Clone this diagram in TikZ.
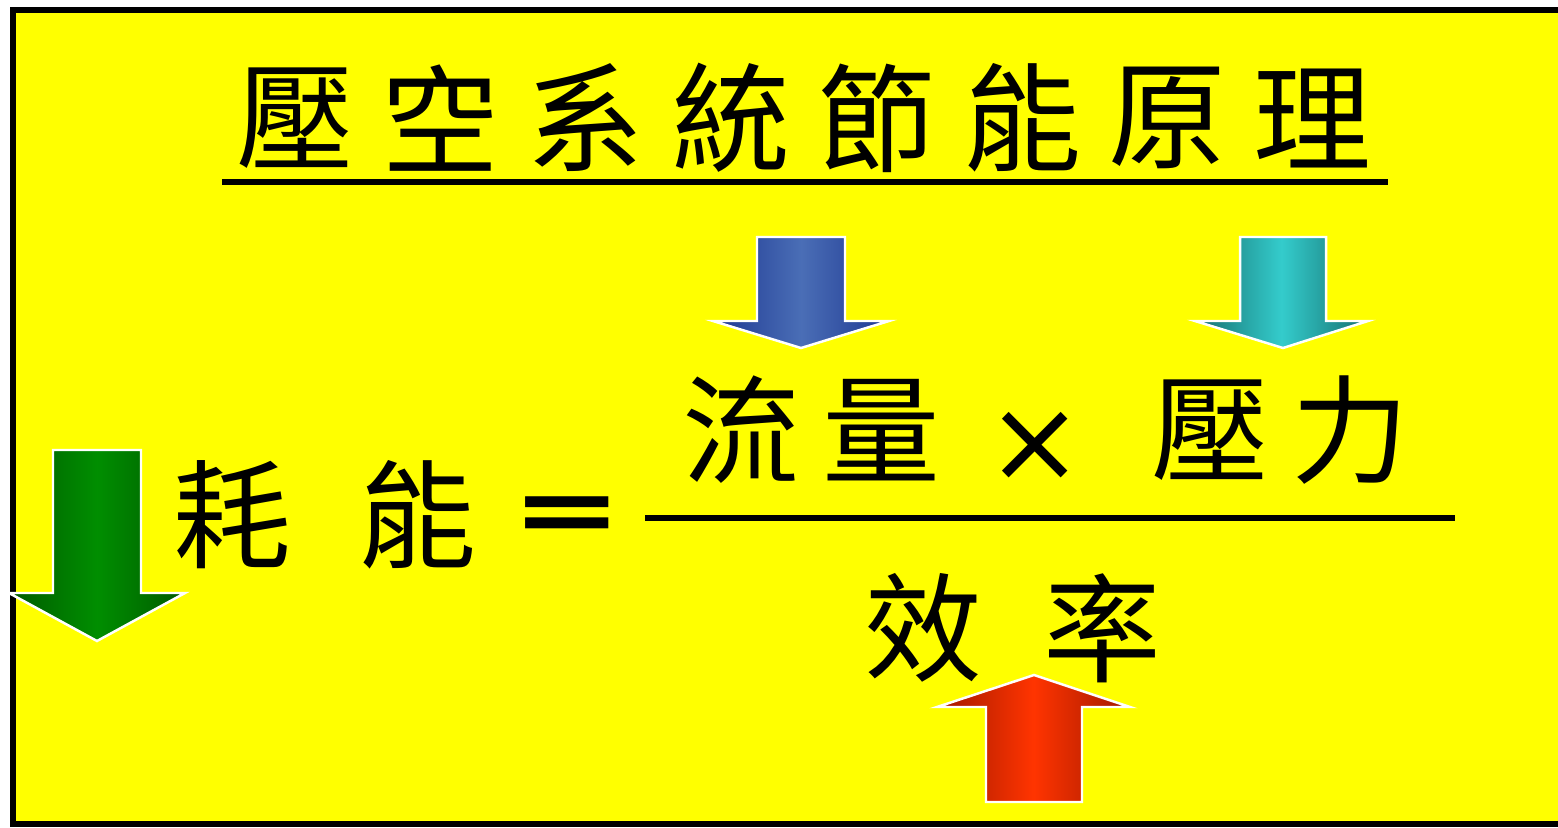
\documentclass[tikz,border=0pt]{standalone}
\usepackage{fontspec}
\newfontfamily\cjk{Noto Sans CJK TC}
\newfontfamily\symfont{DejaVu Sans}
\tikzset{
    zi/.style={inner sep=0pt, font=\cjk\fontsize{33.5}{38}\selectfont},
    fat/.style n args={2}{draw=white, line width=0.7pt, left color=#1, right color=#1, middle color=#2},
}
\definecolor{bgyellow}{RGB}{255,255,0}
\definecolor{gdark}{RGB}{0,90,0}
\definecolor{gmid}{RGB}{0,142,0}
\definecolor{bdark}{RGB}{30,55,145}
\definecolor{bmid}{RGB}{74,110,182}
\definecolor{cdark}{RGB}{22,110,110}
\definecolor{cmid}{RGB}{52,204,204}
\definecolor{rdark}{RGB}{160,25,0}
\definecolor{rmid}{RGB}{255,52,0}
\begin{document}
\begin{tikzpicture}[x=0.01cm, y=-0.01cm]
    \useasboundingbox (0,0) rectangle (1558,827);
    % 底色和邊框
    \fill[white] (0,0) rectangle (1558,827);
    \fill[bgyellow] (13,10) rectangle (1558,824);
    \draw[line width=1.6pt] (1558,10) -- (13,10) -- (13,824) -- (1558,824);
    % 標題
    \foreach \c [count=\i] in {壓,空,系,統,節,能,原,理} {
        \node[zi] (t\i) at ({295+(\i-1)*145.4}, 118) {\c};
    }
    \draw[line width=1.6pt] (222,182) -- (1388,182);
    % 等式左邊
    \node[zi] (hao) at (232,515) {耗};
    \node[zi] (neng) at (417,515) {能};
    \node[inner sep=0pt, xscale=1.4, font=\symfont\bfseries\fontsize{27}{30}\selectfont] (deng) at (567,520) {=};
    % 分子
    \node[zi] (liu) at (741,430) {流};
    \node[zi] (liang) at (881,430) {量};
    \node[inner sep=0pt, font=\symfont\fontsize{33}{36}\selectfont] (cheng) at (1035,447) {×};
    \node[zi] (ya) at (1210,430) {壓};
    \node[zi] (li) at (1350,430) {力};
    % 分數線
    \draw[line width=1.7pt] (645,518) -- (1455,518);
    % 分母
    \node[zi] (xiao) at (923,628) {效};
    \node[zi] (lv) at (1102,628) {率};
    % 箭頭
    \path[fat={gdark}{gmid}] (53,450) -- (141,450) -- (141,593) -- (185,593) -- (97,641) -- (9,593) -- (53,593) -- cycle;
    \path[fat={bdark}{bmid}] (757,237) -- (845,237) -- (845,321) -- (889,321) -- (801,348) -- (713,321) -- (757,321) -- cycle;
    \path[fat={cdark}{cmid}] (1240,237) -- (1326,237) -- (1326,321) -- (1368,321) -- (1283,348) -- (1195,321) -- (1240,321) -- cycle;
    \path[fat={rdark}{rmid}] (986,802) -- (1082,802) -- (1082,707) -- (1130,707) -- (1034,675) -- (937,707) -- (986,707) -- cycle;
\end{tikzpicture}
\end{document}
